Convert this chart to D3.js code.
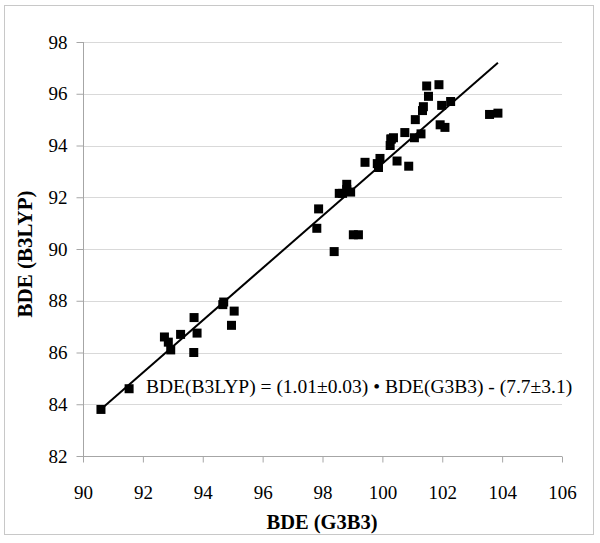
<!DOCTYPE html>
<html>
<head>
<meta charset="utf-8">
<script src="https://cdn.jsdelivr.net/npm/d3@7"></script>
<style>
  body { margin: 0; background: #fff; }
  text { font-family: "Liberation Serif", "Times New Roman", serif; fill: #000; }
</style>
</head>
<body>
<div id="box"></div>
<script>
'use strict';

// BDE values (kcal/mol)
var g3b3 = [90.6, 91.54, 92.72, 92.85, 92.93, 93.26, 93.71, 93.81, 93.70, 94.67, 94.70, 95.05, 94.96,
  97.81, 97.87, 98.39, 98.56, 98.67, 98.81, 98.81, 98.94, 99.03, 99.20, 99.42, 99.83, 99.87, 99.92,
  100.28, 100.26, 100.30, 100.37, 100.49, 100.75, 100.88, 101.07, 101.10, 101.29, 101.34, 101.37,
  101.48, 101.54, 101.89, 101.93, 101.98, 102.09, 102.28, 103.58, 103.86];
var b3lyp = [83.8, 84.6, 86.6, 86.4, 86.1, 86.7, 87.35, 86.75, 86.0, 87.85, 87.95, 87.6, 87.05,
  90.8, 91.55, 89.9, 92.15, 92.15, 92.5, 92.3, 92.2, 90.55, 90.55, 93.35, 93.3, 93.15, 93.5,
  94.25, 94.0, 94.25, 94.3, 93.4, 94.5, 93.2, 94.3, 95.0, 94.45, 95.35, 95.5,
  96.3, 95.9, 96.35, 94.8, 95.55, 94.7, 95.7, 95.2, 95.25];

var xTicks = [90, 92, 94, 96, 98, 100, 102, 104, 106];
var yTicks = [82, 84, 86, 88, 90, 92, 94, 96, 98];

// linear fit shown in the figure
var fitSlope = 1.01;
var fitIntercept = -7.7;
var fitLabel = "BDE(B3LYP) = (1.01\u00b10.03) \u2022 BDE(G3B3) - (7.7\u00b13.1)";

var W = 600, H = 543;
var margin = {top: 42, right: 38, bottom: 87, left: 83};
var width = W - margin.left - margin.right;
var height = H - margin.top - margin.bottom;

var root = d3.select("#box")
  .append("svg")
    .attr("width", W)
    .attr("height", H);

// outer frame
root.append("rect")
  .attr("x", 4.5).attr("y", 5.5)
  .attr("width", 589).attr("height", 529)
  .attr("fill", "none")
  .attr("stroke", "#c8c8c8")
  .attr("stroke-width", 1);

var svg = root.append("g")
  .attr("transform", "translate(" + margin.left + "," + margin.top + ")");

var x = d3.scaleLinear().domain([90, 106]).range([0, width]);
var y = d3.scaleLinear().domain([82, 98]).range([height, 0]);

// gridlines
svg.append("g")
  .selectAll("line")
  .data(yTicks.slice(1))
  .join("line")
    .attr("x1", 0).attr("x2", width)
    .attr("y1", function(d) { return Math.round(y(d)) + 0.5; })
    .attr("y2", function(d) { return Math.round(y(d)) + 0.5; })
    .attr("stroke", "#d9d9d9");

// X axis
var xAxis = svg.append("g")
  .attr("transform", "translate(0," + (Math.round(height) + 0.5) + ")")
  .call(d3.axisBottom(x).tickValues(xTicks).tickSize(6).tickPadding(23).tickFormat(d3.format("d")));
xAxis.select(".domain").attr("stroke", "#a6a6a6").attr("d", "M0,0H" + width);
xAxis.selectAll(".tick line").attr("stroke", "#a6a6a6");
xAxis.selectAll("text")
  .style("font-family", "Liberation Serif")
  .style("font-size", "19px");

// Y axis
var yAxis = svg.append("g")
  .attr("transform", "translate(0.5,0)")
  .call(d3.axisLeft(y).tickValues(yTicks).tickSize(7).tickPadding(9).tickFormat(d3.format("d")));
yAxis.select(".domain").attr("stroke", "#a6a6a6").attr("d", "M0," + height + "V0");
yAxis.selectAll(".tick line").attr("stroke", "#a6a6a6");
yAxis.selectAll("text")
  .style("font-family", "Liberation Serif")
  .style("font-size", "19px");

// axis titles
root.append("text")
  .attr("x", 322)
  .attr("y", 529)
  .attr("text-anchor", "middle")
  .style("font-size", "20.5px")
  .style("font-weight", "bold")
  .text("BDE (G3B3)");

root.append("text")
  .attr("transform", "translate(32,254) rotate(-90)")
  .attr("text-anchor", "middle")
  .style("font-size", "21px")
  .style("font-weight", "bold")
  .text("BDE (B3LYP)");

// fit line spanning the data range
var xExt = d3.extent(g3b3);
svg.append("path")
  .datum(xExt)
  .attr("fill", "none")
  .attr("stroke", "#000")
  .attr("stroke-width", 2)
  .attr("d", d3.line()
    .x(function(d) { return x(d); })
    .y(function(d) { return y(fitSlope * d + fitIntercept); }));

// points
var pts = g3b3.map(function(v, i) { return {x: v, y: b3lyp[i]}; });
var s = 9;
svg.append("g")
  .selectAll("rect")
  .data(pts)
  .join("rect")
    .attr("x", function(d) { return x(d.x) - s / 2; })
    .attr("y", function(d) { return y(d.y) - s / 2; })
    .attr("width", s)
    .attr("height", s)
    .attr("fill", "#000");

// equation label
svg.append("text")
  .attr("x", 63)
  .attr("y", 351)
  .style("font-size", "19.5px")
  .text(fitLabel);
</script>
</body>
</html>
